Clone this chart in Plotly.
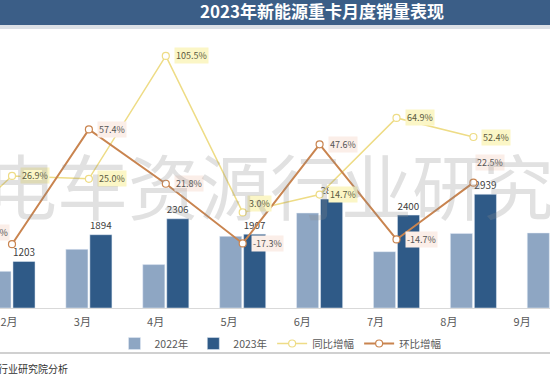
import plotly.graph_objects as go

months = ["1月", "2月", "3月", "4月", "5月", "6月", "7月", "8月", "9月"]
sales_2022 = [1822, 948, 1515, 1122, 1851, 2453, 1455, 1928, 1938]
sales_2023 = [1463, 1203, 1894, 2306, 1907, 2814, 2400, 2939, None]
yoy = [-19.7, 26.9, 25.0, 105.5, 3.0, 14.7, 64.9, 52.4, None]
mom = [None, -17.8, 57.4, 21.8, -17.3, 47.6, -14.7, 22.5, None]

FONT = "Noto Sans CJK SC, Noto Sans, sans-serif"
C22 = "#8EA6C3"
C23 = "#2F5A87"
CYOY = "#EEDC86"
CMOM = "#C9844F"

fig = go.Figure()
fig.add_trace(go.Bar(name="2022年", x=months, y=sales_2022, marker_color=C22,
                     hoverinfo="skip"))
fig.add_trace(go.Bar(name="2023年", x=months, y=sales_2023, marker_color=C23,
                     text=sales_2023, texttemplate="%{y}", textposition="outside",
                     textfont=dict(size=12, color="#404040", family=FONT),
                     hoverinfo="skip"))
fig.add_trace(go.Scatter(name="同比增幅", x=months, y=yoy, yaxis="y2", mode="lines+markers",
                         line=dict(color=CYOY, width=1.5),
                         marker=dict(symbol="circle", size=7, color="white",
                                     line=dict(color=CYOY, width=1.2)),
                         hoverinfo="skip"))
fig.add_trace(go.Scatter(name="环比增幅", x=months, y=mom, yaxis="y2", mode="lines+markers",
                         line=dict(color=CMOM, width=2),
                         marker=dict(symbol="circle", size=7, color="white",
                                     line=dict(color=CMOM, width=1.2)),
                         hoverinfo="skip"))
# carrier trace for the tick-label axis
fig.add_trace(go.Scatter(x=months, y=[None] * len(months), xaxis="x2", showlegend=False,
                         hoverinfo="skip", mode="markers"))

# label offsets (style only)
yoy_off = {"5月": (4, 9)}
mom_off = {"8月": (2, 20), "2月": (-999, 12)}

ann = []
for m, v in zip(months, yoy):
    if v is None or m == "1月":
        continue
    dx, dy = yoy_off.get(m, (8, 0))
    ann.append(dict(x=m, y=v, xref="x", yref="y2", text=f"{v:.1f}%", showarrow=False,
                    xanchor="left", xshift=dx, yshift=dy, bgcolor="#FBF6C6",
                    font=dict(size=9, color="#5A5A40", family=FONT), borderpad=1))
for m, v in zip(months, mom):
    if v is None:
        continue
    dx, dy = mom_off.get(m, (8, 0))
    if dx == -999:
        ann.append(dict(x=m, y=v, xref="x", yref="y2", text=f"{v:.1f}%", showarrow=False,
                        xanchor="right", xshift=-2, yshift=dy, bgcolor="#FBEEE8",
                        font=dict(size=9, color="#555555", family=FONT), borderpad=1))
    else:
        ann.append(dict(x=m, y=v, xref="x", yref="y2", text=f"{v:.1f}%", showarrow=False,
                        xanchor="left", xshift=dx, yshift=dy, bgcolor="#FBEEE8",
                        font=dict(size=9, color="#555555", family=FONT), borderpad=1))

# watermark
ann.append(dict(x=-16 / 550, y=0.45, xref="paper", yref="paper", text="电车资源行业研究院",
                showarrow=False, xanchor="left", yanchor="middle",
                font=dict(size=71, color="rgba(140,140,140,0.26)", family=FONT)))
# source
ann.append(dict(x=-4 / 550, y=(308 - 368) / 278, xref="paper", yref="paper", text="行业研究院分析",
                showarrow=False, xanchor="left", yanchor="middle",
                font=dict(size=10, color="#333333", family=FONT)))

shapes = [
    dict(type="rect", xref="paper", yref="paper", x0=0, x1=1, y0=1 + 5 / 278, y1=1 + 31 / 278,
         fillcolor="#3B5E87", line=dict(width=0), layer="below"),
    dict(type="rect", xref="paper", yref="paper", x0=0, x1=1, y0=1 + 1 / 278, y1=1 + 5 / 278,
         fillcolor="#DCE0E6", line=dict(width=0), layer="below"),
    dict(type="line", xref="paper", yref="paper", x0=0, x1=1, y0=(308 - 353) / 278,
         y1=(308 - 353) / 278, line=dict(color="#D0D0D0", width=2)),
]

fig.update_layout(
    width=550, height=378,
    margin=dict(l=0, r=0, t=30, b=70),
    paper_bgcolor="white", plot_bgcolor="white",
    font=dict(family=FONT, color="#595959"),
    title=dict(text="<b>2023年新能源重卡月度销量表现</b>", x=322 / 550, xanchor="center",
               y=1 - 12.5 / 378, yanchor="middle", font=dict(size=17, color="white", family=FONT)),
    barmode="group", bargap=0.376, bargroupgap=0.08,
    xaxis=dict(type="category", categoryorder="array", categoryarray=months,
               range=[0.844, 7.996], showticklabels=False, showgrid=False,
               showline=True, linecolor="#D9D9D9", linewidth=1, zeroline=False),
    xaxis2=dict(type="category", categoryorder="array", categoryarray=months,
                overlaying="x", anchor="y", side="bottom", range=[0.877, 8.38],
                showgrid=False, showline=False, ticks="", ticklabelstandoff=6,
                tickfont=dict(size=11, color="#595959", family=FONT)),
    yaxis=dict(range=[0, 7183], visible=False, showgrid=False),
    yaxis2=dict(range=[-59.6, 122.5], overlaying="y", visible=False, showgrid=False),
    legend=dict(orientation="h", x=0.51, xanchor="center", y=(308 - 329) / 278, yanchor="top",
                font=dict(size=10.5, color="#595959", family=FONT), itemwidth=30,
                traceorder="normal", bgcolor="rgba(0,0,0,0)"),
    annotations=ann, shapes=shapes, showlegend=True,
)

fig.write_html("out.html", config={"displayModeBar": False},
               post_script="document.body.style.margin='0px';")
